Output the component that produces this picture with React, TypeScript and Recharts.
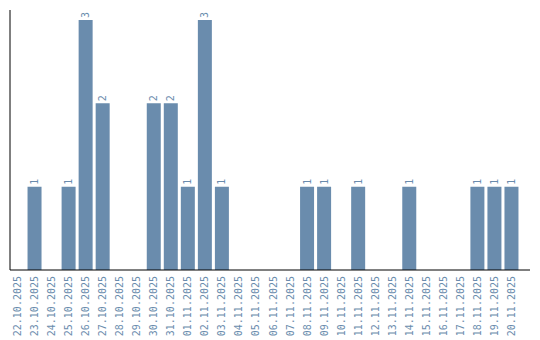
import { BarChart, Bar, XAxis, YAxis, LabelList } from "recharts"

const dates = [
  "22.10.2025", "23.10.2025", "24.10.2025", "25.10.2025", "26.10.2025",
  "27.10.2025", "28.10.2025", "29.10.2025", "30.10.2025", "31.10.2025",
  "01.11.2025", "02.11.2025", "03.11.2025", "04.11.2025", "05.11.2025",
  "06.11.2025", "07.11.2025", "08.11.2025", "09.11.2025", "10.11.2025",
  "11.11.2025", "12.11.2025", "13.11.2025", "14.11.2025", "15.11.2025",
  "16.11.2025", "17.11.2025", "18.11.2025", "19.11.2025", "20.11.2025",
]

const counts = [
  0, 1, 0, 1, 3, 2, 0, 0, 2, 2,
  1, 3, 1, 0, 0, 0, 0, 1, 1, 0,
  1, 0, 0, 1, 0, 0, 0, 1, 1, 1,
]

const data = dates.map((date, i) => ({ date, count: counts[i] }))

const BLUE = "#6a8cad"
const FONT = "'DejaVu Sans Mono', monospace"

const DateTick = (props: any) => {
  const { x, y, payload } = props
  return (
    <g transform={`translate(${x},${y})`}>
      <text
        x={0}
        y={0}
        dy="0.35em"
        textAnchor="end"
        transform="rotate(-90)"
        fill={BLUE}
        fontSize={10}
        fontFamily={FONT}
      >
        {payload.value}
      </text>
    </g>
  )
}

const ValueLabel = (props: any) => {
  const { x, y, width, value } = props
  if (!value) return null
  const cx = x + width / 2
  const top = y - 2
  return (
    <text
      x={cx}
      y={top}
      dy="0.35em"
      textAnchor="start"
      transform={`rotate(-90 ${cx} ${top})`}
      fill={BLUE}
      fontSize={10}
      fontFamily={FONT}
    >
      {value}
    </text>
  )
}

export default function App() {
  return (
    <div style={{ position: "absolute", left: 0, top: 0, width: 540, height: 340 }}>
      <BarChart
        width={540}
        height={340}
        data={data}
        margin={{ top: 10, right: 10, left: 9, bottom: 0 }}
        barCategoryGap={1.5}
      >
        <XAxis
          dataKey="date"
          interval={0}
          height={70}
          tickLine={false}
          tickSize={4}
          axisLine={{ stroke: "#000", strokeWidth: 1 }}
          padding={{ left: -1, right: 10 }}
          tick={<DateTick />}
        />
        <YAxis
          width={1}
          tick={false}
          tickLine={false}
          domain={[0, (max: number) => max * 1.04]}
          axisLine={{ stroke: "#000", strokeWidth: 1 }}
        />
        <Bar dataKey="count" fill={BLUE} isAnimationActive={false}>
          <LabelList dataKey="count" content={<ValueLabel />} />
        </Bar>
      </BarChart>
    </div>
  )
}
